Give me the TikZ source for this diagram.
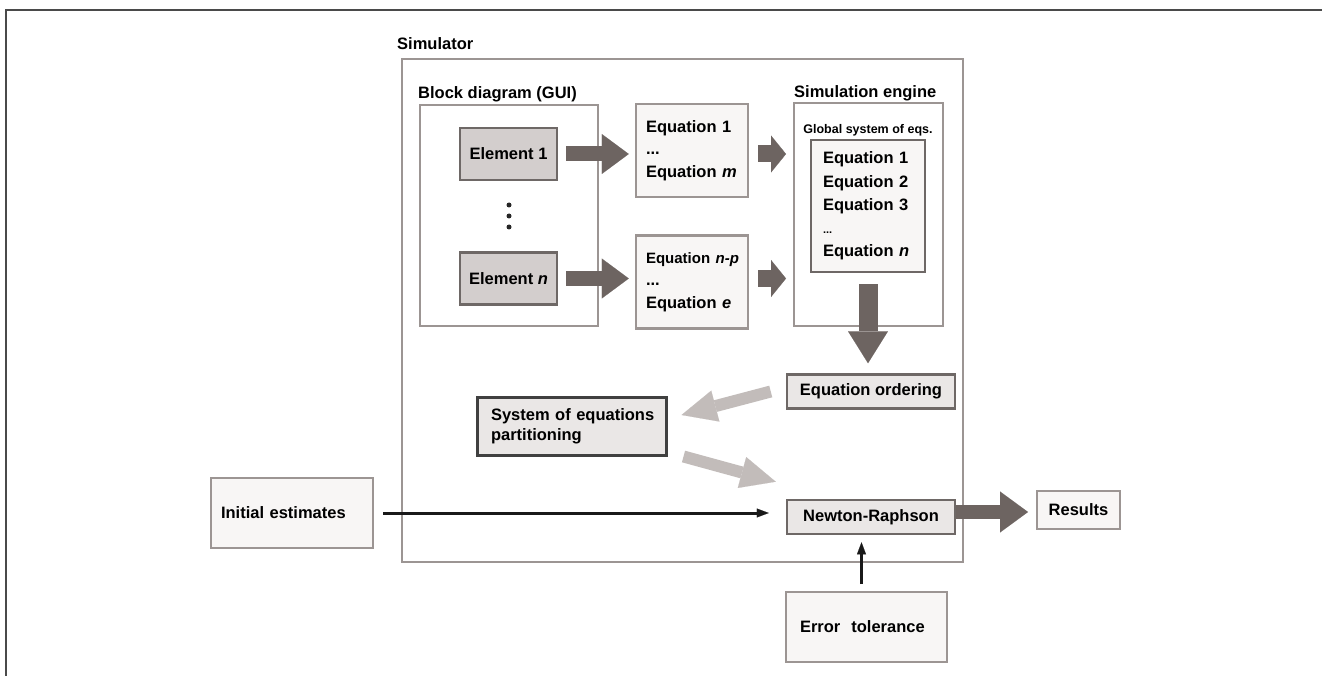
\documentclass[tikz,border=0pt]{standalone}
\usepackage{fontspec}
\setmainfont{Liberation Sans}
\usetikzlibrary{arrows.meta,%
                positioning}
\definecolor{framegray}{HTML}{4A4A4A}
\definecolor{groupgray}{HTML}{9C9593}
\definecolor{boxgray}{HTML}{6E6866}
\definecolor{elemfill}{HTML}{D3CECD}
\definecolor{paperfill}{HTML}{F8F6F5}
\definecolor{procfill}{HTML}{EAE7E6}
\definecolor{darkarrow}{HTML}{6D6461}
\definecolor{lightarrow}{HTML}{C2BCBA}

\begin{document}
\begin{tikzpicture}[x = 1pt, y = -1pt,
                    font = {\fontsize{16.5}{22}\selectfont\bfseries}]
  \useasboundingbox (0,0) rectangle (1322,676);
  \tikzset{GroupStyle/.style    = {draw           = groupgray,
                                   line width     = 2pt,
                                   inner sep      = 0pt}}
  \tikzset{TitleStyle/.style    = {anchor         = west,
                                   inner sep      = 0pt}}
  \tikzset{ElementStyle/.style  = {draw           = boxgray,
                                   fill           = elemfill,
                                   line width     = 2.5pt,
                                   minimum width  = 97pt,
                                   minimum height = 52pt}}
  \tikzset{EquationStyle/.style = {draw           = groupgray,
                                   fill           = paperfill,
                                   line width     = 2.5pt,
                                   text width     = 92pt,
                                   inner xsep     = 10pt,
                                   minimum height = 93pt,
                                   align          = left,
                                   font           = {\fontsize{16.5}{22.5}\selectfont\bfseries}}}
  \tikzset{StepStyle/.style     = {draw           = boxgray,
                                   fill           = procfill,
                                   line width     = 2.5pt,
                                   minimum width  = 168pt,
                                   minimum height = 34pt}}
  \tikzset{OuterStyle/.style    = {draw           = groupgray,
                                   fill           = paperfill,
                                   line width     = 2pt,
                                   minimum height = 70pt,
                                   align          = left}}
  \tikzset{FatArrowStyle/.style = {draw           = darkarrow,
                                   line width     = 15pt}}
  \tikzset{PaleArrowStyle/.style = {draw          = lightarrow,
                                   line width     = 12pt,
                                   -{Triangle[width = 32pt, length = 35pt, line width = 0.1pt]}}}
  \tikzset{ThinArrowStyle/.style = {draw          = black!90,
                                   line width     = 3pt,
                                   -{Triangle[width = 9pt, length = 12pt, line width = 0.1pt]}}}
  % frame
  \draw[line width = 2pt, framegray] (6,676) |- (1322,10);

  % simulator
  \node[GroupStyle, minimum width = 561pt, minimum height = 503pt] (sim) at (682.5,310.5) {};
  \node[TitleStyle] (simtitle) at (397,44) {Simulator};

  % block diagram
  \node[GroupStyle, minimum width = 178pt, minimum height = 221pt] (gui) at (509,215.5) {};
  \node[TitleStyle] (guititle) at (418,94) {Block diagram (GUI)};
  \node[ElementStyle] (el1) at (508.5,154) {Element 1};
  \node[ElementStyle, below = 70pt of el1] (eln) {Element \textit{n}};
  \foreach \y in {205,216,227}
     \fill[black!85] (509,\y) circle (2.5pt);

  % element equations
  \node[EquationStyle] (eq1) at (692,150.5)
        {\mbox{Equation 1}\\...\\\mbox{Equation \textit{m}}};
  \node[EquationStyle, below = 36pt of eq1] (eq2)
        {\mbox{\fontsize{15}{22.5}\selectfont Equation \textit{n-p}}\\...\\\mbox{Equation \textit{e}}};

  % simulation engine
  \node[GroupStyle, minimum width = 149pt, minimum height = 223pt] (eng) at (868.5,214.5) {};
  \node[TitleStyle] (engtitle) at (794,93) {Simulation engine};
  \node[inner sep = 0pt, font = {\fontsize{12.5}{14}\selectfont\bfseries}] (globtitle) at (868,130) {Global system of eqs.};
  \node[draw = boxgray, fill = paperfill, line width = 2.5pt,
        text width = 90pt, inner xsep = 12pt, minimum height = 132pt, align = left,
        font = {\fontsize{16.5}{23.25}\selectfont\bfseries}] (glob) at (868,206)
        {Equation 1\\Equation 2\\Equation 3\\{\fontsize{11}{11}\selectfont ...}\\Equation \textit{n}};

  % solution steps
  \node[StepStyle] (order) at (871,391.5) {Equation ordering};
  \node[draw = black!75, fill = procfill, line width = 3pt,
        text width = 161pt, inner xsep = 14pt, minimum height = 58pt, align = left,
        font = {\fontsize{16.5}{20}\selectfont\bfseries}] (part) at (571.5,426)
        {\mbox{System of equations}\\partitioning};
  \node[StepStyle, below = 89pt of order] (newton) {Newton-Raphson};

  % inputs and output
  \node[OuterStyle, text width = 142pt, inner xsep = 10pt] (init) at (292,513) {Initial estimates};
  \node[OuterStyle, text width = 133pt, inner xsep = 14pt] (tol) at (866.5,627) {Error~~tolerance};
  \node[OuterStyle, minimum width = 83pt, minimum height = 38pt, align = center] (res) at (1078.5,510) {Results};

  % connectors
  \draw[FatArrowStyle, -{Triangle[width = 40pt, length = 27pt, line width = 0.1pt]},
        shorten <= 8pt, shorten >= 6pt] (el1.east) -- (el1.east -| eq1.west);
  \draw[FatArrowStyle, -{Triangle[width = 40pt, length = 27pt, line width = 0.1pt]},
        shorten <= 8pt, shorten >= 6pt] (eln.east) -- (eln.east -| eq2.west);
  \draw[FatArrowStyle, line width = 17pt, -{Triangle[width = 37pt, length = 15pt, line width = 0.1pt]},
        shorten <= 9pt, shorten >= 7pt] (eq1.east |- el1.east) -- (el1.east -| eng.west);
  \draw[FatArrowStyle, line width = 17pt, -{Triangle[width = 37pt, length = 15pt, line width = 0.1pt]},
        shorten <= 9pt, shorten >= 7pt] (eq2.east |- eln.east) -- (eln.east -| eng.west);
  \draw[FatArrowStyle, line width = 19pt, -{Triangle[width = 40pt, length = 32pt, line width = 0.1pt]},
        shorten <= 11pt, shorten >= 10pt] (glob.south) -- (glob.south |- order.north);
  \draw[PaleArrowStyle] ([xshift = -15pt]order.west) -- ([xshift = 14pt, yshift = 11pt]part.east);
  \draw[PaleArrowStyle] ([xshift = 16pt]part.south east) -- ([xshift = -10pt, yshift = 17pt]newton.north west);
  \draw[ThinArrowStyle, shorten <= 9pt, shorten >= 17pt] (init.east) -- (init.east -| newton.west);
  \draw[ThinArrowStyle, shorten <= 7pt, shorten >= 7pt] ([xshift = -5pt]tol.north) -- ([xshift = -5pt]tol.north |- newton.south);
  \draw[FatArrowStyle, line width = 14pt, -{Triangle[width = 41pt, length = 28pt, line width = 0.1pt]},
        shorten >= 8pt] ([yshift = 5pt]newton.east) -- ([yshift = 5pt]newton.east -| res.west);
\end{tikzpicture}
\end{document}
